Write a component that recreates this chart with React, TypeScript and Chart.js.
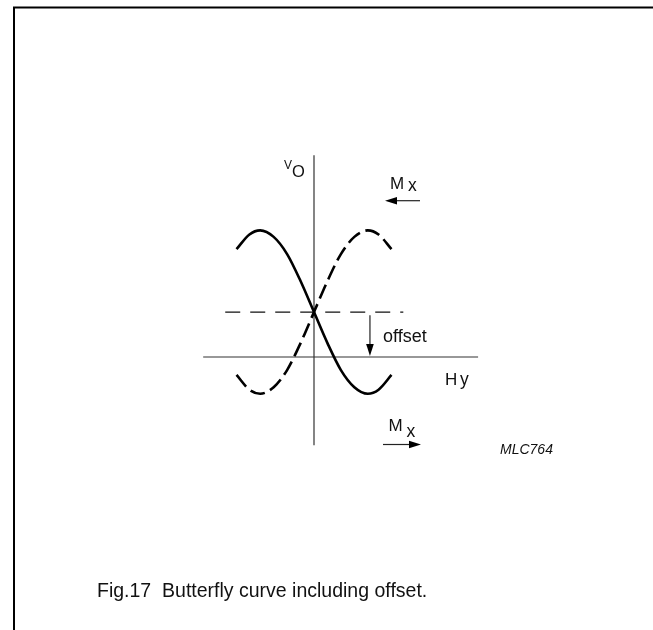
import React, { useEffect, useRef } from "react";
import Chart from "chart.js/auto";

// ---- data ----
const curveX = [-1.44, -1.2, -1.0, -0.75, -0.5, -0.25, 0, 0.25, 0.5, 0.75, 1.0, 1.2, 1.44];
const solidY = [1.32, 1.5, 1.55, 1.47, 1.26, 0.93, 0.55, 0.17, -0.16, -0.37, -0.45, -0.4, -0.22];
const dashedY = [-0.22, -0.4, -0.45, -0.37, -0.16, 0.17, 0.55, 0.93, 1.26, 1.47, 1.55, 1.5, 1.32];
const offsetLevel = 0.55;
const offsetLineX = [-1.65, 1.66];
const offsetArrowX = 1.04;
const offsetArrowTop = 0.51;
const hAxisX = [-2.06, 3.05];
const vAxisY = [-1.08, 2.47];
const captionText = "Fig.17  Butterfly curve including offset.";
const codeText = "MLC764";

const FONT = "'Liberation Sans', Arial, Helvetica, sans-serif";

const App: React.FC = () => {
  const ref = useRef<HTMLCanvasElement | null>(null);

  useEffect(() => {
    if (!ref.current) return;

    const annotations = {
      id: "annotations",
      afterDatasetsDraw(chart: any) {
        const ctx = chart.ctx as CanvasRenderingContext2D;
        const xs = chart.scales.x;
        const ys = chart.scales.y;
        const px = (v: number) => xs.getPixelForValue(v);
        const py = (v: number) => ys.getPixelForValue(v);
        ctx.save();

        // frame
        ctx.strokeStyle = "#000";
        ctx.lineWidth = 2;
        ctx.beginPath();
        ctx.moveTo(14, 630);
        ctx.lineTo(14, 7.5);
        ctx.lineTo(653, 7.5);
        ctx.stroke();

        const text = (s: string, x: number, y: number, size: number, italic = false) => {
          ctx.font = `${italic ? "italic " : ""}${size}px ${FONT}`;
          ctx.fillStyle = "#111";
          ctx.textAlign = "left";
          ctx.textBaseline = "alphabetic";
          ctx.fillText(s, x, y);
        };

        const arrow = (x1: number, y1: number, x2: number, y2: number) => {
          const ang = Math.atan2(y2 - y1, x2 - x1);
          const hl = 12;
          const hw = 3.8;
          ctx.strokeStyle = "#222";
          ctx.lineWidth = 1.2;
          ctx.beginPath();
          ctx.moveTo(x1, y1);
          ctx.lineTo(x2 - Math.cos(ang) * hl * 0.8, y2 - Math.sin(ang) * hl * 0.8);
          ctx.stroke();
          ctx.fillStyle = "#000";
          ctx.beginPath();
          ctx.moveTo(x2, y2);
          ctx.lineTo(x2 - Math.cos(ang) * hl - Math.sin(ang) * hw, y2 - Math.sin(ang) * hl + Math.cos(ang) * hw);
          ctx.lineTo(x2 - Math.cos(ang) * hl + Math.sin(ang) * hw, y2 - Math.sin(ang) * hl - Math.cos(ang) * hw);
          ctx.closePath();
          ctx.fill();
        };

        // offset arrow
        arrow(px(offsetArrowX), py(offsetArrowTop), px(offsetArrowX), py(0) - 1);

        // labels near axes
        text("V", 284, 168.5, 12);
        text("O", 292, 176.7, 16.5);
        text("M", 390, 189.3, 17);
        text("x", 408, 191, 17.5);
        arrow(420, 200.7, 385, 200.7);
        text("offset", 383, 341.7, 18);
        text("H", 445, 385, 17);
        text("y", 460, 385, 17.5);
        text("M", 388.5, 430.5, 17);
        text("x", 406.5, 436.5, 17.5);
        arrow(383, 444.5, 421, 444.5);
        text(codeText, 500, 454, 14, true);

        // caption
        text(captionText, 97, 597, 19.5);
        ctx.restore();
      },
    };

    const pts = (xsArr: number[], ysArr: number[]) => xsArr.map((x, i) => ({ x, y: ysArr[i] }));

    const chart = new Chart(ref.current, {
      type: "scatter",
      data: {
        datasets: [
          {
            data: pts(curveX, solidY),
            showLine: true,
            borderColor: "#000",
            borderWidth: 2.6,
            cubicInterpolationMode: "monotone",
            pointRadius: 0,
          },
          {
            data: pts(curveX, dashedY),
            showLine: true,
            borderColor: "#000",
            borderWidth: 2.6,
            borderDash: [15, 6],
            cubicInterpolationMode: "monotone",
            pointRadius: 0,
          },
          {
            data: pts(offsetLineX, [offsetLevel, offsetLevel]),
            showLine: true,
            borderColor: "#111",
            borderWidth: 1.2,
            borderDash: [15, 10],
            pointRadius: 0,
          },
          {
            data: pts(hAxisX, [0, 0]),
            showLine: true,
            borderColor: "#333",
            borderWidth: 1.2,
            pointRadius: 0,
          },
          {
            data: pts([0, 0], vAxisY),
            showLine: true,
            borderColor: "#333",
            borderWidth: 1.2,
            pointRadius: 0,
          },
        ],
      } as any,
      options: {
        animation: false,
        responsive: false,
        devicePixelRatio: 1,
        events: [],
        layout: { padding: 0 },
        plugins: { legend: { display: false }, tooltip: { enabled: false }, title: { display: false } },
        scales: {
          x: { type: "linear", display: false, min: -5.8364, max: 6.3011 },
          y: { type: "linear", display: false, min: -3.3415, max: 4.3696 },
        },
      } as any,
      plugins: [annotations],
    });

    return () => chart.destroy();
  }, []);

  return (
    <canvas
      ref={ref}
      width={653}
      height={630}
      style={{ position: "fixed", left: 0, top: 0, width: 653, height: 630, background: "#fff" }}
    />
  );
};

export default App;
